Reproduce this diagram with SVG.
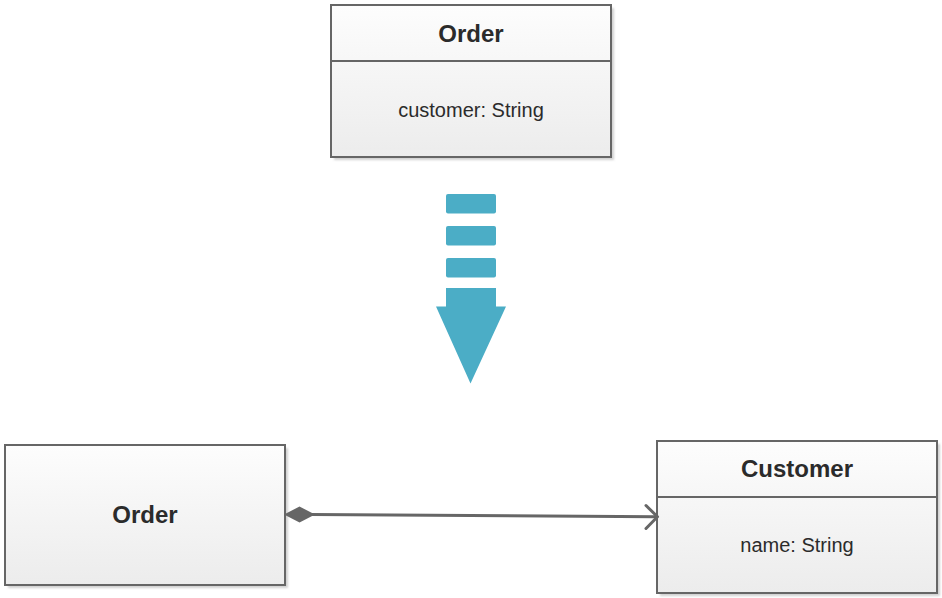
<svg xmlns="http://www.w3.org/2000/svg" width="942" height="598" viewBox="0 0 942 598">
<defs>
<linearGradient id="g" x1="0" y1="0" x2="0" y2="1">
<stop offset="0" stop-color="#fdfdfd"/>
<stop offset="1" stop-color="#ececec"/>
</linearGradient>
<filter id="sh" x="-5%" y="-5%" width="115%" height="115%">
<feGaussianBlur stdDeviation="1"/>
</filter>
</defs>
<style>
.box{fill:url(#g);stroke:#666;stroke-width:2}
.shadow{fill:#d0d0d0;filter:url(#sh)}
.div{stroke:#666;stroke-width:2}
.title{font-family:"Liberation Sans",Arial,sans-serif;font-weight:bold;font-size:24px;fill:#2b2b2b;text-anchor:middle}
.attr{font-family:"Liberation Sans",Arial,sans-serif;font-size:20px;fill:#2b2b2b;text-anchor:middle}
.blue{fill:#4badc6}
</style>
<rect width="942" height="598" fill="#fff"/>
<g id="order-top">
<rect class="shadow" x="334" y="8" width="280" height="152"/>
<rect class="box" x="331" y="5" width="280" height="152"/>
<line class="div" x1="331" y1="61" x2="611" y2="61"/>
<text class="title" x="471" y="42">Order</text>
<text class="attr" x="471" y="117">customer: String</text>
</g>
<g id="transform-arrow">
<rect class="blue" x="446" y="194" width="50" height="19.5" rx="2"/>
<rect class="blue" x="446" y="226" width="50" height="19.5" rx="2"/>
<rect class="blue" x="446" y="258" width="50" height="19.5" rx="2"/>
<path class="blue" d="M446,288 H496 V306.5 H506 L470.5,383.5 L436,306.5 H446 Z"/>
</g>
<g id="order-bottom">
<rect class="shadow" x="8" y="448" width="280" height="140"/>
<rect class="box" x="5" y="445" width="280" height="140"/>
<text class="title" x="145" y="523">Order</text>
</g>
<g id="customer">
<rect class="shadow" x="660" y="444" width="280" height="152"/>
<rect class="box" x="657" y="441" width="280" height="152"/>
<line class="div" x1="657" y1="497" x2="937" y2="497"/>
<text class="title" x="797" y="477">Customer</text>
<text class="attr" x="797" y="552">name: String</text>
</g>
<g id="connectors">
<line x1="312" y1="514.6" x2="656" y2="516.8" stroke="#666" stroke-width="3"/>
<polygon points="284,514.5 299.5,506.5 315,514.6 299.5,522.5" fill="#666"/>
<polyline points="646,505.5 657.5,516.8 646,528.5" fill="none" stroke="#666" stroke-width="3" stroke-linecap="round" stroke-linejoin="round"/>
</g>
</svg>
